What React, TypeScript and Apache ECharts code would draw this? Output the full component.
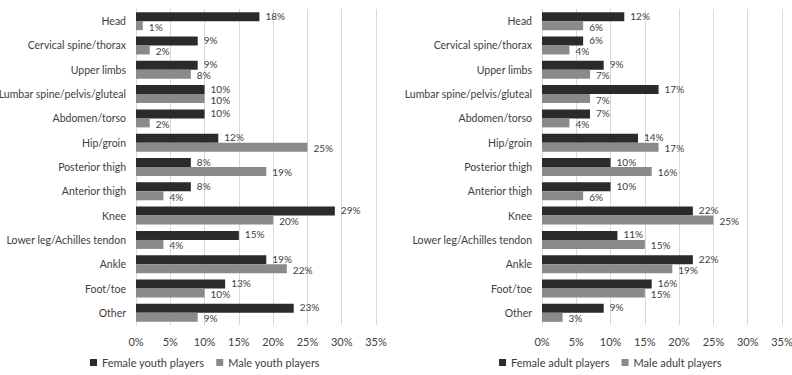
import React, { useEffect, useRef } from "react";
import * as echarts from "echarts";

const regions = [
  "Head",
  "Cervical spine/thorax",
  "Upper limbs",
  "Lumbar spine/pelvis/gluteal",
  "Abdomen/torso",
  "Hip/groin",
  "Posterior thigh",
  "Anterior thigh",
  "Knee",
  "Lower leg/Achilles tendon",
  "Ankle",
  "Foot/toe",
  "Other",
];

const femaleYouth = [18, 9, 9, 10, 10, 12, 8, 8, 29, 15, 19, 13, 23];
const maleYouth = [1, 2, 8, 10, 2, 25, 19, 4, 20, 4, 22, 10, 9];
const femaleAdult = [12, 6, 9, 17, 7, 14, 10, 10, 22, 11, 22, 16, 9];
const maleAdult = [6, 4, 7, 7, 4, 17, 16, 6, 25, 15, 19, 15, 3];

const DARK = "#2b2b2b";
const GREY = "#8a8a8a";
const FONT = "Lato, 'Open Sans', sans-serif";

export default function App() {
  const ref = useRef<HTMLDivElement>(null);

  useEffect(() => {
    if (!ref.current) return;
    const chart = echarts.init(ref.current, undefined, { renderer: "svg" });

    const grids = [
      { left: 136, width: 240, top: 9, height: 316, outerBoundsMode: "none" },
      { left: 542, width: 240, top: 9, height: 316, outerBoundsMode: "none" },
    ];

    const xAxisFor = (i: number) => ({
      type: "value" as const,
      gridIndex: i,
      min: 0,
      max: 35,
      interval: 5,
      axisLine: { show: false },
      axisTick: { show: false },
      splitLine: { show: true, lineStyle: { color: "#d9d9d9", width: 1 } },
      axisLabel: {
        formatter: "{value}%",
        color: "#404040",
        fontSize: 11,
        fontFamily: FONT,
        margin: 11,
      },
    });

    const yAxisFor = (i: number) => ({
      type: "category" as const,
      gridIndex: i,
      data: regions,
      inverse: true,
      axisLine: { show: true, lineStyle: { color: "#d9d9d9" } },
      axisTick: { show: false },
      axisLabel: {
        color: "#404040",
        fontSize: 10.5,
        fontFamily: FONT,
        margin: 10,
      },
    });

    // female labels sit a pixel high, male labels a pixel low
    const barSeries = (
      name: string,
      data: number[],
      color: string,
      i: number,
      dy: number
    ) => ({
      name,
      type: "bar" as const,
      xAxisIndex: i,
      yAxisIndex: i,
      data,
      barGap: "0%",
      barCategoryGap: "26%",
      itemStyle: { color },
      label: {
        show: true,
        position: "right" as const,
        distance: 6,
        offset: [0, dy],
        formatter: "{c}%",
        color: "#404040",
        fontSize: 10,
        lineHeight: 9,
        fontFamily: FONT,
      },
    });

    const legendText = { color: "#404040", fontSize: 11, fontFamily: FONT };

    chart.setOption({
      animation: false,
      backgroundColor: "#ffffff",
      grid: grids,
      xAxis: [xAxisFor(0), xAxisFor(1)],
      yAxis: [yAxisFor(0), yAxisFor(1)],
      legend: [
        {
          data: ["Female youth players", "Male youth players"],
          left: 85,
          top: 352,
          icon: "rect",
          itemWidth: 7,
          itemHeight: 7,
          itemGap: 12,
          textStyle: legendText,
        },
        {
          data: ["Female adult players", "Male adult players"],
          left: 494,
          top: 352,
          icon: "rect",
          itemWidth: 7,
          itemHeight: 7,
          itemGap: 12,
          textStyle: legendText,
        },
      ],
      series: [
        barSeries("Female youth players", femaleYouth, DARK, 0, -1),
        barSeries("Male youth players", maleYouth, GREY, 0, 1),
        barSeries("Female adult players", femaleAdult, DARK, 1, -1),
        barSeries("Male adult players", maleAdult, GREY, 1, 1),
      ],
    });

    return () => chart.dispose();
  }, []);

  return (
    <div
      ref={ref}
      style={{ position: "absolute", left: 0, top: 0, width: 792, height: 375 }}
    />
  );
}
